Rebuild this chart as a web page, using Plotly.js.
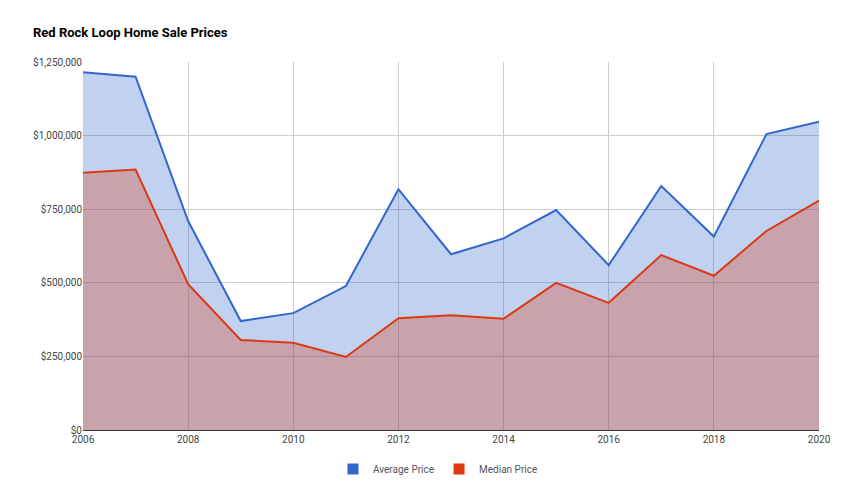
<!DOCTYPE html>
<html>
<head>
<meta charset="utf-8">
<script src="https://cdn.plot.ly/plotly-3.0.1.min.js"></script>
<style>html,body{margin:0;padding:0;background:#fff;}#chart{width:850px;height:500px;}</style>
</head>
<body>
<div id="chart"></div>
<script>
const years = [2006,2007,2008,2009,2010,2011,2012,2013,2014,2015,2016,2017,2018,2019,2020];
const averagePrice = [1215000,1200000,710000,370000,397000,489000,818000,597000,651000,747000,560000,829000,657000,1005000,1047000];
const medianPrice = [874000,885000,495000,306000,296000,248000,380000,390000,378000,500000,432000,594000,524000,676000,779000];
const seriesNames = ['Average Price','Median Price'];
const lineColors = ['#3366cc','#dc3912'];
const fillColors = ['rgba(51,102,204,0.3)','rgba(220,57,18,0.3)'];
const yTicks = [0,250000,500000,750000,1000000,1250000];

const series = [averagePrice, medianPrice];
const traces = [];
series.forEach((vals,i)=>{
  traces.push({
    x: years, y: vals, type:'scatter', mode:'lines', name: seriesNames[i],
    fill:'tozeroy', fillcolor: fillColors[i],
    line:{color: lineColors[i], width:2}, showlegend:false, hoverinfo:'x+y'
  });
});
series.forEach((vals,i)=>{
  traces.push({
    x:[null], y:[null], type:'scatter', mode:'markers', name: seriesNames[i],
    marker:{symbol:'square', size:11, color: lineColors[i]}, showlegend:true
  });
});

const layout = {
  width:850, height:500,
  margin:{l:83, r:31, t:62, b:70},
  paper_bgcolor:'#fff', plot_bgcolor:'#fff',
  font:{family:'Roboto, Arial, sans-serif', size:10, color:'#444'},
  title:{text:'<b>Red Rock Loop Home Sale Prices</b>', x:33/850, xanchor:'left', xref:'container',
         y:1-32/500, yref:'container', yanchor:'middle', font:{size:13, color:'#000', family:'Roboto, Arial, sans-serif'}},
  xaxis:{range:[2006,2020], tick0:2006, dtick:2, gridcolor:'#cccccc', showline:true, linecolor:'#333', linewidth:1,
         ticks:'', zeroline:false, tickfont:{size:10, color:'#444'}, fixedrange:true},
  yaxis:{range:[0,1250000], tickvals:yTicks, tickformat:'$,.0f', gridcolor:'#cccccc', zeroline:false,
         ticks:'', tickfont:{size:10, color:'#444'}, fixedrange:true},
  showlegend:true,
  legend:{orientation:'h', x:(333-83)/736, xanchor:'left', y:-39/368, yanchor:'middle', font:{size:10, color:'#555'},
          itemwidth:30, tracegroupgap:0}
};
Plotly.newPlot('chart', traces, layout, {displayModeBar:false, staticPlot:true});
</script>
</body>
</html>
